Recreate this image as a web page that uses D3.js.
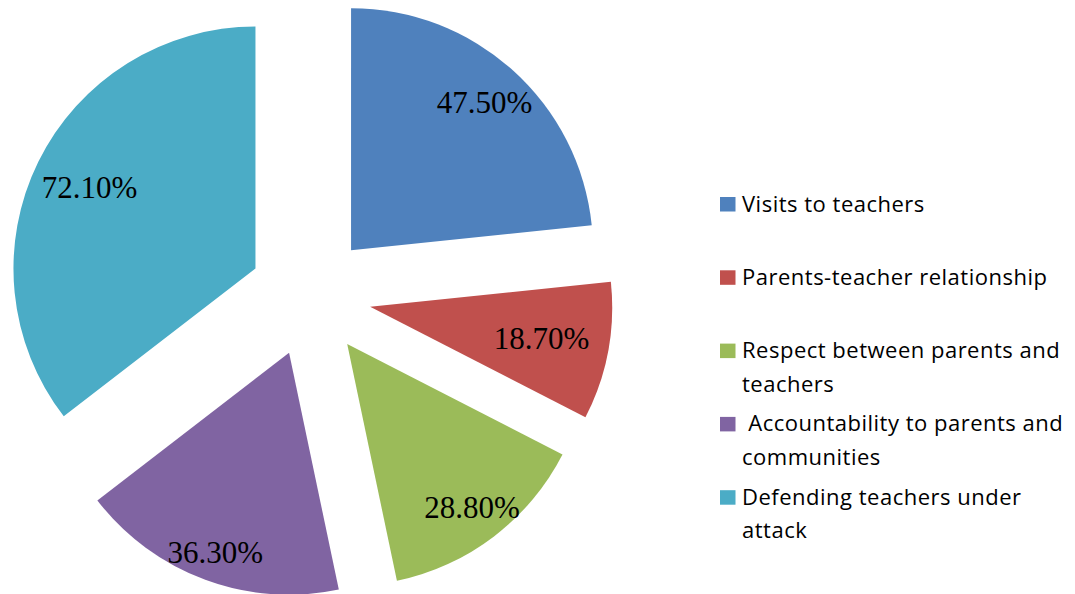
<!DOCTYPE html>
<html>
<head>
<meta charset="utf-8">
<script src="https://cdn.jsdelivr.net/npm/d3@7"></script>
<style>
  html, body { margin: 0; padding: 0; background: #fff; }
  svg { display: block; }
</style>
</head>
<body>
<svg id="chart" width="1075" height="594"></svg>
<script>
// Share of responses per category (percent)
const categories = [
  "Visits to teachers",
  "Parents-teacher relationship",
  "Respect between parents and teachers",
  " Accountability to parents and communities",
  "Defending teachers under attack"
];
const values = [47.5, 18.7, 28.8, 36.3, 72.1];
const valueLabels = ["47.50%", "18.70%", "28.80%", "36.30%", "72.10%"];

// Legend text split over lines
const legendLines = [
  ["Visits to teachers"],
  ["Parents-teacher relationship"],
  ["Respect between parents and", "teachers"],
  [" Accountability to parents and", "communities"],
  ["Defending teachers under", "attack"]
];

const colors = ["#4F81BD", "#C0504D", "#9BBB59", "#8064A2", "#4BACC6"];

// Layout
const cx = 310.2, cy = 295.5;
const radius = 242;
const explode = 61;
// radial position of each value label, as a fraction of the radius
const labelFrac = [0.824, 0.72, 0.85, 0.88, 0.764];

const svg = d3.select("#chart");

const pie = d3.pie().sort(null).value(d => d)(values);
const arc = d3.arc().innerRadius(0).outerRadius(radius);

const g = svg.append("g").attr("transform", `translate(${cx},${cy})`);

const slices = g.selectAll("g.slice")
  .data(pie)
  .join("g")
  .attr("class", "slice")
  .attr("transform", d => {
    const mid = (d.startAngle + d.endAngle) / 2;
    return `translate(${Math.sin(mid) * explode},${-Math.cos(mid) * explode})`;
  });

slices.append("path")
  .attr("d", arc)
  .attr("fill", (d, i) => colors[i]);

slices.append("text")
  .attr("transform", (d, i) => {
    const r = radius * labelFrac[i];
    const la = d3.arc().innerRadius(r).outerRadius(r);
    const [x, y] = la.centroid(d);
    return `translate(${x},${y})`;
  })
  .attr("text-anchor", "middle")
  .attr("dy", "0.34em")
  .attr("font-family", "'Liberation Serif', 'Times New Roman', serif")
  .attr("font-size", 31)
  .attr("fill", "#000")
  .text((d, i) => valueLabels[i]);

// Legend
const legendX = 720, legendTop = 211.5, itemStep = 73.3, lineStep = 33.5;
const legend = svg.append("g");
const items = legend.selectAll("g.item")
  .data(categories)
  .join("g")
  .attr("class", "item")
  .attr("transform", (d, i) => `translate(${legendX},${legendTop + i * itemStep})`);

items.append("rect")
  .attr("x", 0)
  .attr("y", -14.5)
  .attr("width", 15.5)
  .attr("height", 14.5)
  .attr("fill", (d, i) => colors[i]);

items.append("text")
  .attr("x", 22)
  .attr("y", 0)
  .attr("font-family", "'Open Sans', sans-serif")
  .attr("font-size", 22)
  .attr("letter-spacing", 0.5)
  .attr("fill", "#000")
  .style("white-space", "pre")
  .selectAll("tspan")
  .data((d, i) => legendLines[i])
  .join("tspan")
  .attr("x", 22)
  .attr("dy", (d, j) => j === 0 ? 0 : lineStep)
  .text(d => d);
</script>
</body>
</html>
